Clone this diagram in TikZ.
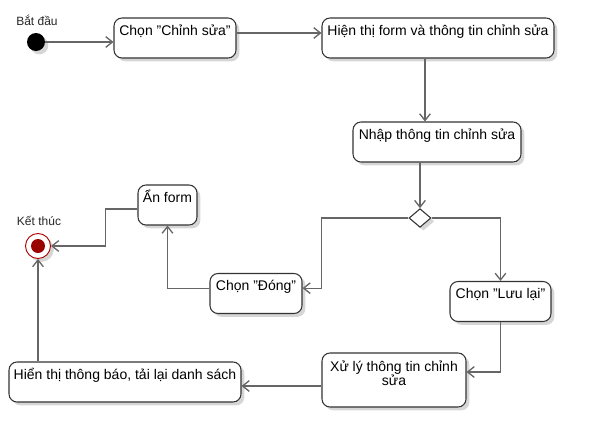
\documentclass[tikz,border=0pt]{standalone}
\usepackage{fontspec}
\setmainfont{Liberation Sans}
\definecolor{edgegray}{RGB}{102, 102, 102}
\definecolor{boxline}{RGB}{51, 51, 51}
\definecolor{endred}{RGB}{153, 0, 0}
\definecolor{endring}{RGB}{178, 0, 0}
\usetikzlibrary{shapes.geometric, arrows.meta, positioning, shadows}
\tikzset{
    actbox/.style={
        rectangle,
        draw=boxline,
        fill=white,
        line width=0.8pt,
        rounded corners=6pt,
        minimum height=30pt,
        inner xsep=2pt,
        inner ysep=3pt,
        text height=10pt,
        text depth=14pt,
        align=center,
        font=\fontsize{10.5pt}{9.8pt}\selectfont,
        drop shadow={shadow xshift=2.5pt, shadow yshift=-2.5pt, opacity=0.16, fill=black}
    },
    startnode/.style={
        circle,
        fill=black,
        minimum size=13.5pt,
        inner sep=0pt,
        drop shadow={shadow xshift=2.5pt, shadow yshift=-2.5pt, opacity=0.16, fill=black}
    },
    endnode/.style={
        circle,
        draw=endring,
        fill=white,
        line width=0.7pt,
        minimum size=18.75pt,
        inner sep=0pt,
        path picture={\fill[endred] (path picture bounding box.center) circle (5.25pt);},
        drop shadow={shadow xshift=2.5pt, shadow yshift=-2.5pt, opacity=0.16, fill=black}
    },
    decision/.style={
        diamond,
        draw=boxline,
        fill=white,
        line width=0.8pt,
        minimum width=16.5pt,
        minimum height=14pt,
        inner sep=0pt,
        drop shadow={shadow xshift=2.5pt, shadow yshift=-2.5pt, opacity=0.16, fill=black}
    },
    lbl/.style={inner sep=0pt, anchor=base, font=\fontsize{9pt}{11pt}\selectfont, text=black!85},
    flowline/.style={draw=edgegray, line width=1pt, -{Straight Barb[length=5pt, width=8pt]}}
}

\begin{document}
\begin{tikzpicture}[x=0.75pt, y=-0.75pt]
      \useasboundingbox (0,0) rectangle (594,447);

      \node[startnode] (start) at (36,42) {};
      \node[lbl] (startlbl) at (37,25) {Bắt đầu};
      \node[actbox, minimum width=91.5pt] (chon) at (175,38) {Chọn "Chỉnh sửa"};
      \node[actbox, minimum width=174pt] (hienthi) at (438,38) {Hiện thị form và thông tin chỉnh sửa};
      \node[actbox, minimum width=126pt] (nhap) at (437,142) {Nhập thông tin chỉnh sửa};
      \node[decision] (dec) at (420,218) {};
      \node[actbox, minimum width=69pt] (dong) at (256,293.5) {Chọn "Đóng"};
      \node[actbox, minimum width=75.75pt] (luu) at (500.5,301.5) {Chọn "Lưu lại"};
      \node[actbox, minimum width=44.25pt] (an) at (167.5,205) {Ẩn form};
      \node[endnode] (end) at (38,246) {};
      \node[lbl] (endlbl) at (39,225) {Kết thúc};
      \node[actbox, minimum width=108pt, minimum height=40.5pt, text height=10.5pt, text depth=24pt] (xuly) at (394,380)
            {\begin{tabular}[t]{@{}c@{}}Xử lý thông tin chỉnh\\sửa\end{tabular}};
      \node[actbox, minimum width=174pt] (tbao) at (125,382) {Hiển thị thông báo, tải lại danh sách};

      \draw[flowline] (start.east) -- (start.east -| chon.west);
      \draw[flowline] ([yshift=3.75pt]chon.east) -- ([yshift=3.75pt]chon.east -| hienthi.west);
      \draw[flowline] ([xshift=-9.75pt]hienthi.south) -- ([xshift=-9.75pt]hienthi.south |- nhap.north);
      \draw[flowline] (nhap.south -| dec.north) -- (dec.north);
      \draw[flowline] (dec.west) -- ++(-65.25pt,0) |- ([yshift=4pt]dong.east);
      \draw[flowline] (dec.east) -| (luu.north);
      \draw[flowline] ([yshift=4pt]dong.west) -| (an.south);
      \draw[flowline] ([yshift=-3pt]an.west) -- ++(-24pt,0) |- (end.east);
      \draw[flowline] (luu.south) |- ([yshift=6pt]xuly.east);
      \draw[flowline] ([yshift=-4.5pt]xuly.west) -- ([yshift=-4.5pt]xuly.west -| tbao.east);
      \draw[flowline] (tbao.north -| end.south) -- (end.south);
\end{tikzpicture}
\end{document}
